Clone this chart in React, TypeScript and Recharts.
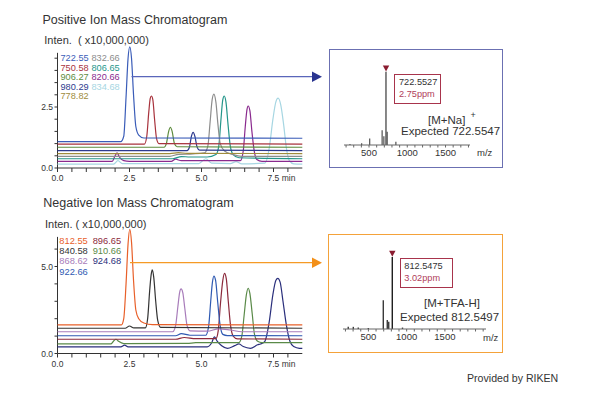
import React from "react";
import {
  LineChart,
  Line,
  XAxis,
  YAxis,
  ReferenceLine,
  ReferenceDot,
  ComposedChart,
  Bar,
  Cell,
} from "recharts";

// ---- positive ion traces: [time (min), intensity x10^7] ----
const pos72255 = [[0, 1.08], [2.2, 1.08], [2.3, 1.3], [2.38, 2.9], [2.45, 4.5], [2.51, 4.97], [2.57, 4.5], [2.64, 3.0], [2.72, 1.7], [2.82, 1.35], [3.0, 1.23], [8.5, 1.22]];
const pos75058 = [[0, 0.98], [3.02, 0.98], [3.1, 1.3], [3.17, 2.3], [3.22, 2.85], [3.26, 2.95], [3.31, 2.8], [3.37, 2.0], [3.44, 1.2], [3.52, 1.0], [8.5, 0.98]];
const pos90627 = [[0, 0.85], [3.7, 0.85], [3.78, 1.0], [3.86, 1.5], [3.92, 1.67], [3.98, 1.5], [4.06, 1.0], [4.15, 0.87], [8.5, 0.85]];
const pos98029 = [[0, 0.71], [4.5, 0.71], [4.58, 0.85], [4.65, 1.3], [4.71, 1.46], [4.77, 1.3], [4.85, 0.85], [4.93, 0.73], [8.5, 0.71]];
const pos77882 = [[0, 0.59], [3.9, 0.59], [4.2, 0.63], [4.5, 0.6], [8.5, 0.59]];
const pos83266 = [[0, 0.48], [3.9, 0.48], [4.2, 0.56], [4.7, 0.58], [5.1, 0.62], [5.22, 0.9], [5.3, 1.9], [5.37, 2.8], [5.43, 3.03], [5.5, 2.7], [5.57, 1.8], [5.65, 1.0], [5.8, 0.7], [6.1, 0.55], [6.4, 0.48], [8.5, 0.48]];
const pos80665 = [[0, 0.38], [4.0, 0.38], [4.3, 0.47], [4.6, 0.45], [5.2, 0.45], [5.5, 0.55], [5.6, 0.9], [5.67, 1.9], [5.74, 2.8], [5.79, 2.95], [5.85, 2.7], [5.92, 1.8], [6.0, 0.9], [6.1, 0.55], [6.3, 0.42], [8.5, 0.38]];
const pos82066 = [[0, 0.27], [1.9, 0.27], [2.0, 0.5], [2.07, 0.62], [2.15, 0.45], [2.3, 0.3], [2.5, 0.27], [3.95, 0.27], [4.1, 0.36], [4.3, 0.3], [6.35, 0.3], [6.45, 0.7], [6.52, 1.7], [6.58, 2.4], [6.62, 2.54], [6.68, 2.35], [6.75, 1.5], [6.83, 0.7], [6.92, 0.35], [7.1, 0.27], [8.5, 0.27]];
const pos83468 = [[0, 0.16], [1.95, 0.16], [2.1, 0.3], [2.25, 0.18], [4.9, 0.18], [5.15, 0.38], [5.35, 0.2], [6.0, 0.18], [6.2, 0.26], [6.4, 0.17], [7.2, 0.2], [7.35, 0.8], [7.48, 2.0], [7.58, 2.7], [7.66, 2.86], [7.75, 2.6], [7.85, 1.8], [7.95, 0.8], [8.05, 0.3], [8.2, 0.17], [8.5, 0.16]];

// ---- negative ion traces ----
const neg81255 = [[0, 1.64], [2.22, 1.64], [2.3, 2.0], [2.38, 4.0], [2.45, 6.3], [2.51, 7.14], [2.57, 6.4], [2.64, 4.2], [2.72, 2.5], [2.82, 2.0], [3.0, 1.75], [3.3, 1.66], [8.5, 1.64]];
const neg84058 = [[0, 1.45], [2.35, 1.45], [2.5, 1.58], [2.65, 1.47], [3.05, 1.47], [3.13, 2.0], [3.2, 3.6], [3.25, 4.5], [3.29, 4.8], [3.34, 4.4], [3.41, 3.0], [3.48, 1.9], [3.58, 1.5], [8.5, 1.45]];
const neg86862 = [[0, 1.25], [4.0, 1.25], [4.1, 1.6], [4.18, 2.7], [4.24, 3.5], [4.29, 3.71], [4.35, 3.5], [4.42, 2.6], [4.5, 1.6], [4.6, 1.3], [5.2, 1.28], [5.6, 1.42], [6.0, 1.35], [6.4, 1.25], [8.5, 1.25]];
const neg92266 = [[0, 1.02], [4.1, 1.02], [4.3, 1.14], [4.6, 1.05], [5.15, 1.05], [5.25, 1.6], [5.32, 3.0], [5.38, 4.1], [5.43, 4.45], [5.49, 4.2], [5.56, 3.0], [5.64, 1.7], [5.74, 1.1], [5.9, 1.03], [8.5, 1.02]];
const neg89665 = [[0, 0.82], [4.1, 0.82], [4.4, 0.92], [4.8, 0.85], [5.5, 0.85], [5.58, 1.3], [5.66, 2.9], [5.74, 4.2], [5.8, 4.6], [5.86, 4.3], [5.93, 3.0], [6.01, 1.6], [6.1, 1.0], [6.25, 0.84], [8.5, 0.82]];
const neg91066 = [[0, 0.55], [1.85, 0.55], [1.95, 0.72], [2.03, 0.82], [2.12, 0.7], [2.3, 0.57], [4.5, 0.58], [4.8, 0.62], [6.3, 0.63], [6.4, 1.0], [6.48, 2.2], [6.56, 3.4], [6.62, 3.75], [6.68, 3.45], [6.76, 2.3], [6.84, 1.1], [6.95, 0.7], [7.1, 0.62], [8.5, 0.62]];
const neg92468 = [[0, 0.38], [2.2, 0.38], [2.33, 0.48], [2.45, 0.38], [5.2, 0.38], [5.35, 0.6], [5.45, 0.95], [5.55, 0.7], [5.7, 0.45], [5.9, 0.3], [6.15, 0.45], [6.3, 0.55], [6.45, 0.4], [6.7, 0.3], [6.95, 0.5], [7.05, 0.55], [7.2, 0.7], [7.35, 1.8], [7.48, 3.4], [7.58, 4.2], [7.65, 4.32], [7.73, 4.1], [7.83, 3.0], [7.95, 1.6], [8.07, 0.7], [8.2, 0.4], [8.4, 0.3], [8.5, 0.3]];

// ---- mass spectra: m/z and relative intensity (%) ----
const posMz = [252, 405, 510, 672, 695, 722.55, 738, 852];
const posInt = [1.5, 2.5, 9, 20, 12, 100, 18, 4.5];
const negMz = [237, 303, 368, 499, 695, 747, 766, 812.55, 946];
const negInt = [3, 3, 2, 1.5, 40, 12.5, 10, 100, 2];

const timeTicks = [0, 0.5, 1, 1.5, 2, 2.5, 3, 3.5, 4, 4.5, 5, 5.5, 6, 6.5, 7, 7.5, 8];
const timeLabels: Record<string, string> = { "0": "0.0", "2.5": "2.5", "5": "5.0", "7.5": "7.5" };
const posYTicks = [0, 0.5, 1, 1.5, 2, 2.5, 3, 3.5, 4, 4.5];
const posYLabels: Record<string, string> = { "0": "0.0", "2.5": "2.5" };
const negYTicks = [0, 1, 2, 3, 4, 5, 6];
const negYLabels: Record<string, string> = { "0": "0.0", "5": "5.0" };
const mzTicks = [200, 300, 400, 500, 600, 700, 800, 900, 1000, 1100, 1200, 1300, 1400, 1500, 1600, 1700, 1800, 1900, 2000];
const mzLabels: Record<string, string> = { "500": "500", "1000": "1000", "1500": "1500" };

const toPts = (arr: number[][]) => arr.map(([t, v]) => ({ t, v }));

const posTraces = [
  { label: "722.55", color: "#3a5cb8", data: toPts(pos72255) },
  { label: "750.58", color: "#a8323c", data: toPts(pos75058) },
  { label: "906.27", color: "#5e8c3e", data: toPts(pos90627) },
  { label: "980.29", color: "#2e3a8e", data: toPts(pos98029) },
  { label: "778.82", color: "#a08c3c", data: toPts(pos77882) },
  { label: "832.66", color: "#8c8c8c", data: toPts(pos83266) },
  { label: "806.65", color: "#24968a", data: toPts(pos80665) },
  { label: "820.66", color: "#8a2a8e", data: toPts(pos82066) },
  { label: "834.68", color: "#a6d6e2", data: toPts(pos83468) },
];

const negTraces = [
  { label: "812.55", color: "#e8602a", data: toPts(neg81255) },
  { label: "840.58", color: "#333333", data: toPts(neg84058) },
  { label: "868.62", color: "#a87cba", data: toPts(neg86862) },
  { label: "922.66", color: "#2f5ab2", data: toPts(neg92266) },
  { label: "896.65", color: "#8c2a3c", data: toPts(neg89665) },
  { label: "910.66", color: "#5a8a48", data: toPts(neg91066) },
  { label: "924.68", color: "#2a2f7c", data: toPts(neg92468) },
];

const posSpec = posMz.map((mz, i) => ({ mz, int: posInt[i] }));
const negSpec = negMz.map((mz, i) => ({ mz, int: negInt[i] }));

const FONT = "'Liberation Sans', Arial, Helvetica, sans-serif";

const Txt = ({ x, y, size, color = "#333", children }: any) => (
  <div
    style={{
      position: "absolute",
      left: x,
      top: y - size * 0.5,
      fontSize: size,
      lineHeight: `${size}px`,
      color,
      whiteSpace: "nowrap",
    }}
  >
    {children}
  </div>
);

const TimeTick = (props: any) => {
  const { x, y, payload } = props;
  const lab = timeLabels[String(payload.value)];
  if (!lab) return <g />;
  const last = payload.value === 7.5;
  return (
    <text
      x={last ? x - 6 : x}
      y={y}
      dy="0.71em"
      textAnchor={last ? "start" : "middle"}
      fontSize={8.5}
      fill="#333"
    >
      {last ? `${lab} min` : lab}
    </text>
  );
};

const Chromatogram = ({ traces, top, yMax, yTicks, yLabels, axisTop, mTop, mBottom }: any) => (
  <div style={{ position: "absolute", left: 0, top }}>
    <LineChart width={320} height={200} margin={{ top: mTop, right: 17.7, bottom: mBottom, left: 17.5 }}>
      <XAxis
        dataKey="t"
        type="number"
        domain={[0, 8.5]}
        ticks={timeTicks}
        interval={0}
        height={20}
        tickSize={4}
        tickMargin={3}
        stroke="#333"
        tick={<TimeTick />}
      />
      <YAxis
        type="number"
        domain={[0, yMax]}
        ticks={yTicks}
        interval={0}
        width={40}
        axisLine={false}
        tickSize={3}
        tickMargin={1.5}
        tickLine={{ stroke: "#333" }}
        tick={{ fontSize: 8.5, fill: "#333" }}
        tickFormatter={(v: number) => yLabels[String(v)] ?? ""}
      />
      <ReferenceLine segment={[{ x: 0, y: 0 }, { x: 0, y: axisTop }]} stroke="#333" />
      {traces
        .slice()
        .reverse()
        .map((tr: any) => (
          <Line
            key={tr.label}
            data={tr.data}
            dataKey="v"
            type="monotone"
            dot={false}
            stroke={tr.color}
            strokeWidth={1.2}
            isAnimationActive={false}
          />
        ))}
    </LineChart>
  </div>
);

const triangle = (p: any) => (
  <path d={`M${p.cx - 3.2},${p.cy - 3} L${p.cx + 3.2},${p.cy - 3} L${p.cx},${p.cy + 3} Z`} fill="#8a1c30" />
);

const Spectrum = ({ data, left, top, margin, domain, marker }: any) => (
  <div style={{ position: "absolute", left, top }}>
    <ComposedChart width={175} height={120} data={data} margin={margin}>
      <XAxis
        dataKey="mz"
        type="number"
        domain={domain}
        ticks={mzTicks.filter((t) => t > domain[0] && t < domain[1])}
        interval={0}
        height={15}
        tickSize={2.5}
        tickMargin={2}
        stroke="#666"
        tick={{ fontSize: 9.5, fill: "#333" }}
        tickFormatter={(v: number) => mzLabels[String(v)] ?? ""}
      />
      <YAxis hide domain={[0, 110]} />
      <Bar dataKey="int" barSize={1.4} isAnimationActive={false}>
        {data.map((d: any) => (
          <Cell key={d.mz} fill={d.mz === marker ? "#1e1e1e" : "#3a3a3a"} />
        ))}
      </Bar>
      <ReferenceDot x={marker} y={104.5} shape={triangle} />
    </ComposedChart>
  </div>
);

const Legend = ({ traces, x1, x2, rows, size, split }: any) => (
  <>
    {traces.map((tr: any, i: number) => (
      <Txt key={tr.label} x={i < split ? x1 : x2} y={rows[i < split ? i : i - split]} size={size} color={tr.color}>
        {tr.label}
      </Txt>
    ))}
  </>
);

export default function App() {
  return (
    <div
      style={{
        position: "absolute",
        left: 0,
        top: 0,
        width: 600,
        height: 400,
        background: "#fff",
        fontFamily: FONT,
        overflow: "hidden",
      }}
    >
      <Txt x={42.5} y={20.5} size={12.5}>Positive Ion Mass Chromatogram</Txt>
      <Txt x={44.3} y={40.7} size={11}>Inten.&nbsp; ( x10,000,000)</Txt>
      <Txt x={43.3} y={203.3} size={12.5}>Negative Ion Mass Chromatogram</Txt>
      <Txt x={45} y={224.3} size={11}>Inten. ( x10,000,000)</Txt>

      <Chromatogram traces={posTraces} top={0} yMax={5} yTicks={posYTicks} yLabels={posYLabels} axisTop={4.72} mTop={46} mBottom={12} />
      <Chromatogram traces={negTraces} top={190} yMax={7.2} yTicks={negYTicks} yLabels={negYLabels} axisTop={6.7} mTop={38.2} mBottom={16.5} />

      <Legend traces={posTraces} x1={60.5} x2={91.5} rows={[59, 68.5, 78, 87.5, 97]} size={9.2} split={5} />
      <Legend traces={negTraces} x1={59.3} x2={92.7} rows={[241.7, 251.7, 261.7, 272.3]} size={9.3} split={4} />

      {/* boxes around the spectra */}
      <div style={{ position: "absolute", left: 329, top: 49, width: 174, height: 119, border: "1.3px solid #6b70b2", boxSizing: "border-box" }} />
      <div style={{ position: "absolute", left: 328, top: 234, width: 175, height: 119, border: "1.5px solid #f4a23a", boxSizing: "border-box" }} />

      <Spectrum data={posSpec} left={330} top={50} margin={{ top: 14.4, right: 35, bottom: 10, left: 14 }} domain={[173, 1820]} marker={722.55} />
      <Spectrum data={negSpec} left={330} top={235} margin={{ top: 14.8, right: 19, bottom: 11, left: 13 }} domain={[168, 2037]} marker={812.55} />

      {/* arrows from peaks to spectra */}
      <svg width={600} height={400} style={{ position: "absolute", left: 0, top: 0, pointerEvents: "none" }}>
        <line x1={131.5} y1={76.7} x2={313} y2={76.7} stroke="#5a66ba" strokeWidth={1.3} />
        <polygon points="312,71.5 322,76.7 312,82" fill="#2a3590" />
        <line x1={130} y1={262.7} x2={313} y2={262.7} stroke="#f59a25" strokeWidth={1.3} />
        <polygon points="312,257.5 322,262.7 312,268" fill="#f39019" />
      </svg>

      {/* positive spectrum annotations */}
      <div style={{ position: "absolute", left: 394.3, top: 74, width: 46.7, height: 30, border: "1.2px solid #a8344c", boxSizing: "border-box" }} />
      <Txt x={399} y={82.3} size={9.2}>722.5527</Txt>
      <Txt x={399} y={94.3} size={9.2} color="#b0405a">2.75ppm</Txt>
      <Txt x={428} y={120.7} size={11.5}>[M+Na]</Txt>
      <Txt x={470.5} y={115} size={9}>+</Txt>
      <Txt x={401} y={131.7} size={11.5}>Expected 722.5547</Txt>
      <Txt x={477} y={152.7} size={9.5}>m/z</Txt>

      {/* negative spectrum annotations */}
      <div style={{ position: "absolute", left: 400, top: 258.3, width: 53.3, height: 30, border: "1.2px solid #a8344c", boxSizing: "border-box" }} />
      <Txt x={404.3} y={266.7} size={9.2}>812.5475</Txt>
      <Txt x={404.3} y={279} size={9.2} color="#b0405a">3.02ppm</Txt>
      <Txt x={424} y={303.3} size={11.5}>[M+TFA-H]</Txt>
      <Txt x={400} y={317.3} size={11.5}>Expected 812.5497</Txt>
      <Txt x={483} y={337.7} size={9.5}>m/z</Txt>

      <Txt x={467} y={378} size={10.6}>Provided by RIKEN</Txt>
    </div>
  );
}
